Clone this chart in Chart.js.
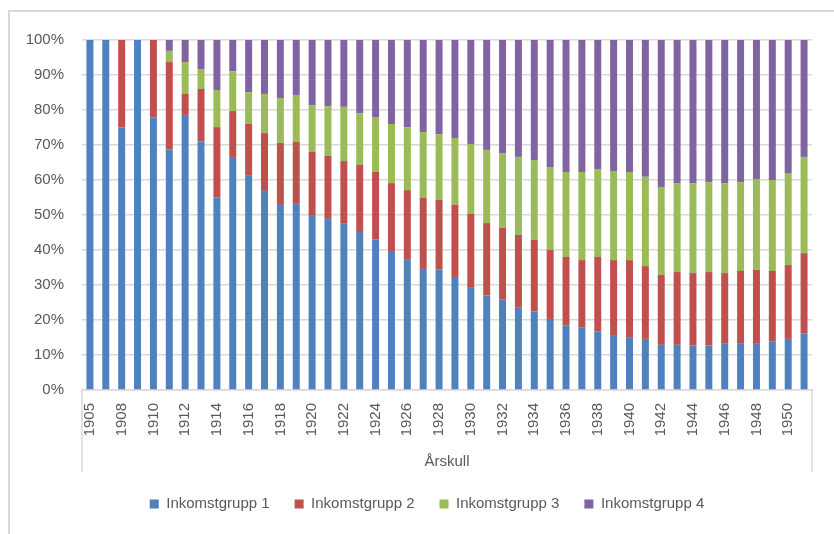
<!DOCTYPE html>
<html>
<head>
<meta charset="utf-8">
<title>Inkomstgrupp per årskull</title>
<script src="https://cdn.jsdelivr.net/npm/chart.js@4/dist/chart.umd.min.js"></script>
<style>
    body { margin: 0; background: #fff; }
    #wrap { width: 834px; height: 534px; position: relative; }
</style>
</head>
<body>
<div id="wrap"><canvas id="myChart"></canvas></div>
<script>
const years = ['1905', '1907', '1908', '1909', '1910', '1911', '1912', '1913', '1914', '1915',
    '1916', '1917', '1918', '1919', '1920', '1921', '1922', '1923', '1924', '1925',
    '1926', '1927', '1928', '1929', '1930', '1931', '1932', '1933', '1934', '1935',
    '1936', '1937', '1938', '1939', '1940', '1941', '1942', '1943', '1944', '1945',
    '1946', '1947', '1948', '1949', '1950', '1951'];

// share of each cohort per income group, in percent
const grupp1 = [100, 100, 75.0, 100, 77.8, 68.7, 78.6, 71.0, 55.1, 66.6,
    61.2, 56.9, 52.9, 53.2, 50.0, 48.9, 47.5, 45.4, 43.1, 39.7,
    37.2, 34.6, 34.4, 32.3, 29.4, 27.0, 25.8, 23.5, 22.4, 20.3,
    18.4, 17.8, 16.7, 15.7, 15.1, 14.6, 12.9, 12.9, 12.7, 12.7,
    13.2, 13.2, 13.4, 13.8, 14.6, 16.1];
const grupp2 = [0, 0, 25.0, 0, 22.2, 25.0, 6.0, 15.0, 20.0, 13.1,
    14.8, 16.5, 17.7, 17.7, 18.0, 18.0, 17.9, 18.9, 19.2, 19.4,
    19.9, 20.3, 19.9, 20.6, 20.9, 20.7, 20.5, 20.8, 20.5, 19.7,
    19.6, 19.3, 21.3, 21.4, 22.0, 20.8, 20.0, 20.8, 20.7, 21.0,
    20.2, 20.8, 20.9, 20.2, 21.1, 23.0];
const grupp3 = [0, 0, 0, 0, 0, 3.2, 9.1, 5.7, 10.6, 11.4,
    9.1, 11.2, 12.8, 13.4, 13.4, 14.2, 15.5, 14.8, 15.7, 16.9,
    18.0, 18.8, 18.8, 19.1, 20.0, 20.9, 21.4, 22.3, 22.8, 23.7,
    24.3, 25.2, 25.1, 25.5, 25.2, 25.5, 25.1, 25.4, 25.7, 25.7,
    25.7, 25.4, 26.0, 26.0, 26.3, 27.5];
const grupp4 = [0, 0, 0, 0, 0, 3.1, 6.3, 8.3, 14.3, 8.9,
    14.9, 15.4, 16.6, 15.7, 18.6, 18.9, 19.1, 20.9, 22.0, 24.0,
    24.9, 26.3, 26.9, 28.0, 29.7, 31.4, 32.3, 33.4, 34.3, 36.3,
    37.7, 37.7, 36.9, 37.4, 37.7, 39.1, 42.0, 40.9, 40.9, 40.6,
    40.9, 40.6, 39.7, 40.0, 38.0, 33.4];

const seriesNames = ['Inkomstgrupp 1', 'Inkomstgrupp 2', 'Inkomstgrupp 3', 'Inkomstgrupp 4'];
const seriesColors = ['#4f81bd', '#c0504d', '#9bbb59', '#8064a2'];

const fontFamily = "'Liberation Sans', Arial, sans-serif";
const fontSize = 15;
const textColor = '#595959';
const lineColor = '#d9d9d9';

// outer frame, side lines of the category axis box, legend nudged right
const framePlugin = {
    id: 'frame',
    afterLayout(chart) {
        chart.legend.left += 21;
        chart.legend.right += 21;
    },
    beforeDraw(chart) {
        const ctx = chart.ctx;
        ctx.save();
        ctx.fillStyle = '#fff';
        ctx.fillRect(0, 0, chart.width, chart.height);
        ctx.strokeStyle = lineColor;
        ctx.lineWidth = 2;
        ctx.strokeRect(9, 11, chart.width + 20, chart.height + 20);
        ctx.restore();
    },
    afterDraw(chart) {
        const ctx = chart.ctx;
        const area = chart.chartArea;
        const bottom = chart.scales.x.bottom;
        ctx.save();
        ctx.strokeStyle = lineColor;
        ctx.lineWidth = 1.5;
        ctx.beginPath();
        ctx.moveTo(area.left, area.bottom);
        ctx.lineTo(area.left, bottom);
        ctx.moveTo(area.right, area.bottom);
        ctx.lineTo(area.right, bottom);
        ctx.stroke();
        ctx.restore();
    }
};

const groups = [grupp1, grupp2, grupp3, grupp4];

const ctx = document.getElementById('myChart').getContext('2d');
const myChart = new Chart(ctx, {
    type: 'bar',
    data: {
        labels: years,
        datasets: groups.map((values, i) => ({
            label: seriesNames[i],
            data: values,
            backgroundColor: seriesColors[i],
            borderWidth: 0,
            barPercentage: 1,
            categoryPercentage: 0.44
        }))
    },
    options: {
        responsive: true,
        maintainAspectRatio: false,
        animation: false,
        layout: {
            padding: { left: 0, right: 22, top: 40, bottom: 12.5 }
        },
        scales: {
            x: {
                stacked: true,
                grid: { display: false },
                border: { display: true, color: lineColor, width: 1.5 },
                ticks: {
                    autoSkip: false,
                    maxRotation: 90,
                    minRotation: 90,
                    padding: 5,
                    color: textColor,
                    font: { family: fontFamily, size: fontSize },
                    callback: function (value, index) {
                        return index % 2 === 0 ? this.getLabelForValue(value) : '';
                    }
                },
                title: {
                    display: true,
                    text: 'Årskull',
                    color: textColor,
                    font: { family: fontFamily, size: fontSize, lineHeight: 1 },
                    padding: { top: 0, bottom: 2 }
                },
                afterFit: (scale) => { scale.height = 81.5; }
            },
            y: {
                stacked: true,
                min: 0,
                max: 100,
                grid: { color: lineColor, lineWidth: 1.5, drawTicks: false },
                border: { display: false },
                ticks: {
                    stepSize: 10,
                    padding: 18,
                    color: textColor,
                    font: { family: fontFamily, size: fontSize },
                    callback: (value) => value + '%'
                },
                afterFit: (scale) => { scale.width = 82; }
            }
        },
        plugins: {
            legend: {
                position: 'bottom',
                labels: {
                    boxWidth: 9,
                    boxHeight: 9,
                    padding: 25,
                    color: textColor,
                    font: { family: fontFamily, size: fontSize }
                }
            },
            tooltip: { enabled: false }
        }
    },
    plugins: [framePlugin]
});
</script>
</body>
</html>
